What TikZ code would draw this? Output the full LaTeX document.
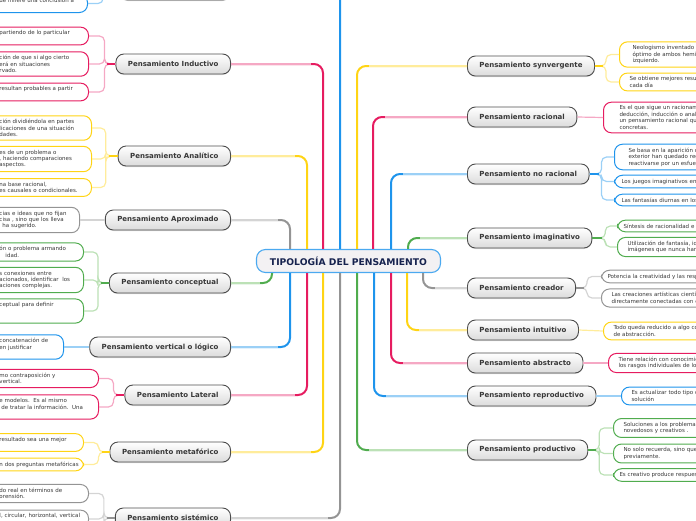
\documentclass[tikz,border=0pt]{standalone}
\usepackage{fontspec}
\setmainfont{DejaVu Sans}
\usetikzlibrary{calc,shadows}
\definecolor{mmPink}{RGB}{230,28,96}
\definecolor{mmPinkLt}{RGB}{245,168,196}
\definecolor{mmYellow}{RGB}{255,212,20}
\definecolor{mmYellowLt}{RGB}{255,236,155}
\definecolor{mmBlue}{RGB}{30,148,236}
\definecolor{mmBlueLt}{RGB}{155,208,246}
\definecolor{mmGreen}{RGB}{80,172,78}
\definecolor{mmGreenLt}{RGB}{188,225,182}
\definecolor{mmGrey}{RGB}{148,148,148}
\definecolor{mmGreyLt}{RGB}{212,212,212}
\definecolor{mmInk}{RGB}{56,56,56}
\definecolor{mmNavy}{RGB}{22,34,78}
\definecolor{mmRootFill}{RGB}{243,241,243}
\tikzset{
  rootnode/.style={draw=mmBlue!80, line width=1.1pt, fill=mmRootFill, rounded corners=9pt,
    minimum width=184pt, minimum height=23pt, text=mmNavy,
    font=\bfseries\fontsize{9.2}{10}\selectfont},
  topic/.style={draw=mmInk!90, line width=0.9pt, rounded corners=8pt, top color=white,
    bottom color=black!14, minimum height=20pt, inner xsep=12pt, text=mmInk,
    font=\bfseries\fontsize{7}{8}\selectfont,
    drop shadow={shadow xshift=0pt, shadow yshift=-1pt, opacity=0.25}},
  leaf/.style={fill=white, line width=1pt, rounded corners=8pt, align=left, inner xsep=0pt,
    inner ysep=3.6pt, text=mmInk, font=\fontsize{5.5}{6.4}\selectfont},
  trunk/.style={line width=2pt, rounded corners=9pt},
  twig/.style={line width=1.2pt, rounded corners=5pt},
}
% leaf cut by the left border: name, colour, right x, y, text
\newcommand{\leafL}[5]{%
  \node[leaf, draw=#2, anchor=east, text width={#3+20},
    execute at begin node={\leftskip=20pt}] (#1) at (#3,#4) {#5};
}
% leaf cut by the right border: name, colour, left x, y, indent, text
\newcommand{\leafR}[6]{%
  \node[leaf, draw=#2, anchor=west, text width=130,
    execute at begin node={\leftskip=#5pt}] (#1) at (#3,#4) {#6};
}
% branch from the centre: colour, trunk x, root anchor, topic anchor, light shift
\newcommand{\branch}[5]{%
  \draw[trunk, #1] (#3 -| #2,0) |- (#4);
  \draw[trunk, #1Lt] ($(#4 -| #2,0)+(#5,0)$) -- (#4);
}

\begin{document}
\begin{tikzpicture}[x=1pt, y=-1pt]
  \useasboundingbox (0,0) rectangle (696,520);
  \clip (0,0) rectangle (696,520);

  \node[rootnode] (root) at (348.5,261) {TIPOLOGÍA DEL PENSAMIENTO};

  % left topics
  \node[topic, anchor=east, minimum width=111pt] (deduct) at (231,-10) {};
  \node[topic, anchor=east] (induct) at (231,64) {Pensamiento Inductivo};
  \node[topic, anchor=east] (analit) at (231,156) {Pensamiento Analítico};
  \node[topic, anchor=east] (aprox) at (231,220) {Pensamiento Aproximado};
  \node[topic, anchor=east] (concep) at (231,283) {Pensamiento conceptual};
  \node[topic, anchor=east] (vertic) at (231,347) {Pensamiento vertical o lógico};
  \node[topic, anchor=east] (lateral) at (231,395) {Pensamiento Lateral};
  \node[topic, anchor=east] (metaf) at (231,452) {Pensamiento metafórico};
  \node[topic, anchor=east] (sistem) at (231,518) {Pensamiento sistémico};

  % right topics
  \node[topic, anchor=west] (synverg) at (467,66) {Pensamiento synvergente};
  \node[topic, anchor=west] (racion) at (467,117) {Pensamiento racional};
  \node[topic, anchor=west] (noracion) at (467,174) {Pensamiento no racional};
  \node[topic, anchor=west] (imagin) at (467,238) {Pensamiento imaginativo};
  \node[topic, anchor=west] (creador) at (467,288) {Pensamiento creador};
  \node[topic, anchor=west] (intuit) at (467,330) {Pensamiento intuitivo};
  \node[topic, anchor=west] (abstract) at (467,363) {Pensamiento abstracto};
  \node[topic, anchor=west] (reprod) at (467,396) {Pensamiento reproductivo};
  \node[topic, anchor=west] (product) at (467,450) {Pensamiento productivo};

  % left leaves
  \leafL{deductA}{mmBlue}{88}{3.5}{ue infiere una conclusión a\\ \mbox{}}
  \leafL{inductA}{mmPink}{89}{36}{ partiendo de lo particular\\ \mbox{}}
  \leafL{inductB}{mmPink}{89}{64}{ción de que si algo cierto\\ erá en situaciones\\ rvado.}
  \leafL{inductC}{mmPink}{89}{92}{ resultan probables a partir\\ \mbox{}}
  \leafL{analitA}{mmYellow}{92}{128}{ción dividiéndola en partes\\ licaciones de una situación\\ dades.}
  \leafL{analitB}{mmYellow}{92}{159}{es de un problema o\\ , haciendo comparaciones\\ aspectos.}
  \leafL{analitC}{mmYellow}{92}{187.5}{na base racional,\\ es causales o condicionales.}
  \leafL{aproxA}{mmGrey}{80}{220}{cias e ideas que no fijan\\ cisa , sino que los lleva\\ \hspace*{3pt}ha sugerido.}
  \leafL{concepA}{mmGreen}{84}{252}{ón o problema armando\\ \hspace*{6pt}idad.}
  \leafL{concepB}{mmGreen}{84}{280}{s conexiones entre\\ acionados, identificar\ \ los\\ aciones complejas.}
  \leafL{concepC}{mmGreen}{84}{311}{ceptual para definir\\ \mbox{}\\ \mbox{}}
  \leafL{verticA}{mmBlue}{64}{347}{concatenación de\\ en justificar\\ \mbox{}}
  \leafL{lateralA}{mmPink}{99}{378.5}{mo contraposición y\\ vertical.}
  \leafL{lateralB}{mmPink}{99}{407}{e modelos.\ \ Es al mismo\\ \ de tratar la información.\ \ Una\\ \mbox{}}
  \leafL{metafA}{mmYellow}{84}{442.5}{resultado sea una mejor\\ \mbox{}}
  \leafL{metafB}{mmYellow}{84}{464.5}{n dos preguntas metafóricas}
  \leafL{sistemA}{mmGrey}{89}{493.5}{do real en términos de\\ orensión.}
  \leafL{sistemB}{mmGrey}{89}{519}{l, circular, horizontal, vertical\\ \mbox{}}

  % right leaves
  \leafR{synvergA}{mmYellow}{619}{54.5}{13}{Neologismo inventado p\\ óptimo de ambos hemi\\ izquierdo.}
  \leafR{synvergB}{mmYellow}{619}{82}{10}{Se obtiene mejores resu\\ cada día}
  \leafR{racionA}{mmPink}{603}{117.5}{16}{Es el que sigue un racionam\\ deducción, inducción o anal\\ un pensamiento racional qu\\ concretas.}
  \leafR{noracionA}{mmBlue}{614}{157}{14}{Se basa en la aparición d\\ exterior han quedado reg\\ reactivarse por un esfuer}
  \leafR{noracionB}{mmBlue}{614}{181.5}{7}{Los juegos imaginativos en}
  \leafR{noracionC}{mmBlue}{614}{200}{7}{Las fantasías diurnas en los}
  \leafR{imaginA}{mmGreen}{617}{226}{6}{Síntesis de racionalidad e}
  \leafR{imaginB}{mmGreen}{617}{247}{10}{Utilización de fantasía, id\\ imágenes que nunca han}
  \leafR{creadorA}{mmGrey}{601}{276.5}{6}{Potencia la creatividad y las resp}
  \leafR{creadorB}{mmGrey}{601}{298}{10}{Las creaciones artísticas cientí\\ directamente conectadas con é}
  \leafR{intuitA}{mmYellow}{603}{331}{10}{Todo queda reducido a algo co\\ de abstracción.}
  \leafR{abstractA}{mmPink}{608}{363}{10}{Tiene relación con conocimie\\ los rasgos individuales de lo}
  \leafR{reprodA}{mmBlue}{621}{396}{10}{Es actualizar todo tipo d\\ solución}
  \leafR{productA}{mmGreen}{613}{428}{10}{Soluciones a los problemas\\ novedosos y creativos .}
  \leafR{productB}{mmGreen}{613}{453.5}{10}{No solo recuerda, sino que\\ previamente.}
  \leafR{productC}{mmGreen}{613}{475}{6}{Es creativo produce respues}

  % branches from the centre
  \branch{mmBlue}{340}{root.north}{deduct.east}{-12}
  \branch{mmPink}{323}{root.north}{induct.east}{-12}
  \branch{mmYellow}{307}{root.north}{analit.east}{-12}
  \branch{mmGrey}{290}{root.north}{aprox.east}{-12}
  \branch{mmGreen}{272}{root.south}{concep.east}{-12}
  \branch{mmBlue}{290}{root.south}{vertic.east}{-12}
  \branch{mmPink}{307}{root.south}{lateral.east}{-12}
  \branch{mmYellow}{323}{root.south}{metaf.east}{-12}
  \branch{mmGrey}{340}{root.south}{sistem.east}{-12}
  \branch{mmYellow}{357}{root.north}{synverg.west}{12}
  \branch{mmPink}{373}{root.north}{racion.west}{12}
  \branch{mmBlue}{391}{root.north}{noracion.west}{12}
  \branch{mmGreen}{408}{root.north}{imagin.west}{12}
  \branch{mmGrey}{423}{root.south}{creador.west}{12}
  \branch{mmYellow}{407}{root.south}{intuit.west}{12}
  \branch{mmPink}{391}{root.south}{abstract.west}{12}
  \branch{mmBlue}{374}{root.south}{reprod.west}{12}
  \branch{mmGreen}{357}{root.south}{product.west}{12}

  % twigs to the leaves, left
  \draw[twig, mmBlueLt] (deduct.west) -- ++(-16,0) |- (deductA.east);
  \draw[twig, mmPinkLt] (induct.west) -- ++(-11,0) |- (inductA.east);
  \draw[twig, mmPinkLt] (induct.west) -- ++(-11,0) |- (inductB.east);
  \draw[twig, mmPinkLt] (induct.west) -- ++(-11,0) |- (inductC.east);
  \draw[twig, mmPink] (induct.west) -- ++(-8,0);
  \draw[twig, mmYellowLt] (analit.west) -- ++(-12,0) |- (analitA.east);
  \draw[twig, mmYellowLt] (analit.west) -- ++(-12,0) |- (analitB.east);
  \draw[twig, mmYellowLt] (analit.west) -- ++(-12,0) |- (analitC.east);
  \draw[twig, mmYellow] (analit.west) -- ++(-9,0);
  \draw[twig, mmGreyLt] (aprox.west) -- (aproxA.east);
  \draw[twig, mmGreenLt] (concep.west) -- ++(-11,0) |- (concepA.east);
  \draw[twig, mmGreenLt] (concep.west) -- ++(-11,0) |- (concepB.east);
  \draw[twig, mmGreenLt] (concep.west) -- ++(-11,0) |- (concepC.east);
  \draw[twig, mmGreen] (concep.west) -- ++(-8,0);
  \draw[twig, mmBlueLt] (vertic.west) -- (verticA.east);
  \draw[twig, mmPinkLt] (lateral.west) -- ++(-11,0) |- (lateralA.east);
  \draw[twig, mmPinkLt] (lateral.west) -- ++(-11,0) |- (lateralB.east);
  \draw[twig, mmPink] (lateral.west) -- ++(-8,0);
  \draw[twig, mmYellowLt] (metaf.west) -- ++(-11,0) |- (metafA.east);
  \draw[twig, mmYellowLt] (metaf.west) -- ++(-11,0) |- (metafB.east);
  \draw[twig, mmYellow] (metaf.west) -- ++(-8,0);
  \draw[twig, mmGreyLt] (sistem.west) -- ++(-11,0) |- (sistemA.east);
  \draw[twig, mmGreyLt] (sistem.west) -- ++(-11,0) |- (sistemB.east);
  \draw[twig, mmGrey] (sistem.west) -- ++(-8,0);

  % twigs to the leaves, right
  \draw[twig, mmYellowLt] (synverg.east) -- ++(11,0) |- (synvergA.west);
  \draw[twig, mmYellowLt] (synverg.east) -- ++(11,0) |- (synvergB.west);
  \draw[twig, mmYellow] (synverg.east) -- ++(8,0);
  \draw[twig, mmPinkLt] (racion.east) -- (racionA.west);
  \draw[twig, mmBlueLt] (noracion.east) -- ++(12,0) |- (noracionA.west);
  \draw[twig, mmBlueLt] (noracion.east) -- ++(12,0) |- (noracionB.west);
  \draw[twig, mmBlueLt] (noracion.east) -- ++(12,0) |- (noracionC.west);
  \draw[twig, mmBlue] (noracion.east) -- ++(9,0);
  \draw[twig, mmGreenLt] (imagin.east) -- ++(13,0) |- (imaginA.west);
  \draw[twig, mmGreenLt] (imagin.east) -- ++(13,0) |- (imaginB.west);
  \draw[twig, mmGreen] (imagin.east) -- ++(10,0);
  \draw[twig, mmGreyLt] (creador.east) -- ++(11,0) |- (creadorA.west);
  \draw[twig, mmGreyLt] (creador.east) -- ++(11,0) |- (creadorB.west);
  \draw[twig, mmGrey] (creador.east) -- ++(8,0);
  \draw[twig, mmYellowLt] (intuit.east) -- (intuitA.west);
  \draw[twig, mmPinkLt] (abstract.east) -- (abstractA.west);
  \draw[twig, mmBlueLt] (reprod.east) -- (reprodA.west);
  \draw[twig, mmGreenLt] (product.east) -- ++(11,0) |- (productA.west);
  \draw[twig, mmGreenLt] (product.east) -- ++(11,0) |- (productB.west);
  \draw[twig, mmGreenLt] (product.east) -- ++(11,0) |- (productC.west);
  \draw[twig, mmGreen] (product.east) -- ++(8,0);
\end{tikzpicture}
\end{document}
